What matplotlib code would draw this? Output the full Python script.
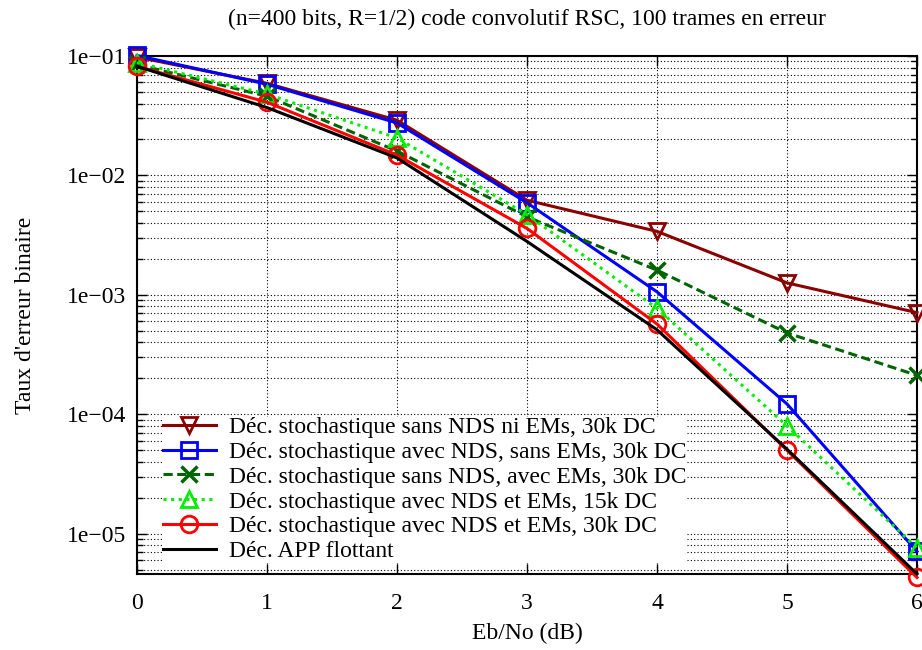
import matplotlib
matplotlib.use("Agg")
import matplotlib.pyplot as plt
from matplotlib.ticker import LogLocator, FuncFormatter, NullFormatter
import numpy as np

plt.rcParams['font.family'] = ['Liberation Serif', 'DejaVu Serif']

ebno = [0, 1, 2, 3, 4, 5, 6]

ber_sans_nds_ni_ems = [0.098, 0.059, 0.029, 0.0062, 0.0034, 0.00126, 0.00071]
ber_nds_sans_ems = [0.101, 0.058, 0.0275, 0.0059, 0.00106, 0.000122, 7.1e-6]
ber_sans_nds_ems = [0.085, 0.046, 0.016, 0.0045, 0.00161, 0.00048, 0.000212]
ber_nds_ems_15k = [0.088, 0.048, 0.0206, 0.0047, 0.00077, 8.0e-5, 7.6e-6]
ber_nds_ems_30k = [0.082, 0.041, 0.0148, 0.0036, 0.00057, 5.0e-5, 4.3e-6]
ber_app = [0.082, 0.037, 0.014, 0.0028, 0.00051, 5.1e-5, 4.6e-6]

labels = [
  "Déc. stochastique sans NDS ni EMs, 30k DC",
  "Déc. stochastique avec NDS, sans EMs, 30k DC",
  "Déc. stochastique sans NDS, avec EMs, 30k DC",
  "Déc. stochastique avec NDS et EMs, 15k DC",
  "Déc. stochastique avec NDS et EMs, 30k DC",
  "Déc. APP flottant",
]

fs = 17

fig = plt.figure(figsize=(9.22, 6.5), dpi=100)
ax = fig.add_axes([137 / 922, 76 / 650, 780 / 922, 518 / 650])

lw = 2.2
ax.plot(ebno, ber_sans_nds_ni_ems, color="#8b0000", lw=lw, marker="v", ms=12,
        mfc="none", mew=2, label=labels[0], clip_on=False, zorder=5)
ax.plot(ebno, ber_nds_sans_ems, color="#0000ff", lw=lw, marker="s", ms=12,
        mfc="none", mew=2, label=labels[1], clip_on=False, zorder=5)
ax.plot(ebno, ber_sans_nds_ems, color="#006400", lw=lw, ls=(0, (3, 1.5)), marker="x", ms=12,
        mew=2.5, label=labels[2], clip_on=False, zorder=5)
ax.plot(ebno, ber_nds_ems_15k, color="#00ee00", lw=lw, ls=(0, (1, 1.5)), marker="^", ms=12,
        mfc="none", mew=2, label=labels[3], clip_on=False, zorder=5)
ax.plot(ebno, ber_nds_ems_30k, color="#ff0000", lw=lw, marker="o", ms=12,
        mfc="none", mew=2, label=labels[4], clip_on=False, zorder=5)
ax.plot(ebno, ber_app, color="black", lw=lw, label=labels[5], clip_on=False, zorder=6)

ax.set_yscale("log")
ax.set_xlim(0, 6)
ax.set_ylim(4.6e-6, 0.1)
ax.set_xticks(ebno)
ax.yaxis.set_major_locator(LogLocator(base=10, numticks=10))
ax.yaxis.set_minor_locator(LogLocator(base=10, subs=np.arange(2, 10), numticks=50))
ax.yaxis.set_major_formatter(FuncFormatter(lambda v, p: "1e\u2212%02d" % round(-np.log10(v))))
ax.yaxis.set_minor_formatter(NullFormatter())

ax.tick_params(which="both", direction="in", top=True, right=True, labelsize=fs)
ax.tick_params(which="major", length=7, width=1)
ax.tick_params(which="minor", length=4, width=1)
ax.tick_params(axis="x", pad=14)
ax.tick_params(axis="y", pad=8)
for s in ax.spines.values():
  s.set_linewidth(1.5)

ax.grid(True, which="major", ls=(0, (1, 2)), color="black", lw=0.8)
ax.grid(True, which="minor", axis="y", ls=(0, (1, 2)), color="black", lw=0.8)

ax.set_xlabel("Eb/No (dB)", fontsize=fs, labelpad=6)
ax.set_ylabel("Taux d'erreur binaire", fontsize=fs, labelpad=22)
ax.set_title("(n=400 bits, R=1/2) code convolutif RSC, 100 trames en erreur", fontsize=fs, pad=22)

leg = ax.legend(loc="lower left", bbox_to_anchor=(0.018, 0.0), fontsize=fs, frameon=True,
                fancybox=False, edgecolor="none", framealpha=1, handlelength=2.25,
                labelspacing=0.14, borderpad=0.0, handletextpad=0.55)
leg.set_zorder(4)

fig.savefig("out.png", dpi=100)
